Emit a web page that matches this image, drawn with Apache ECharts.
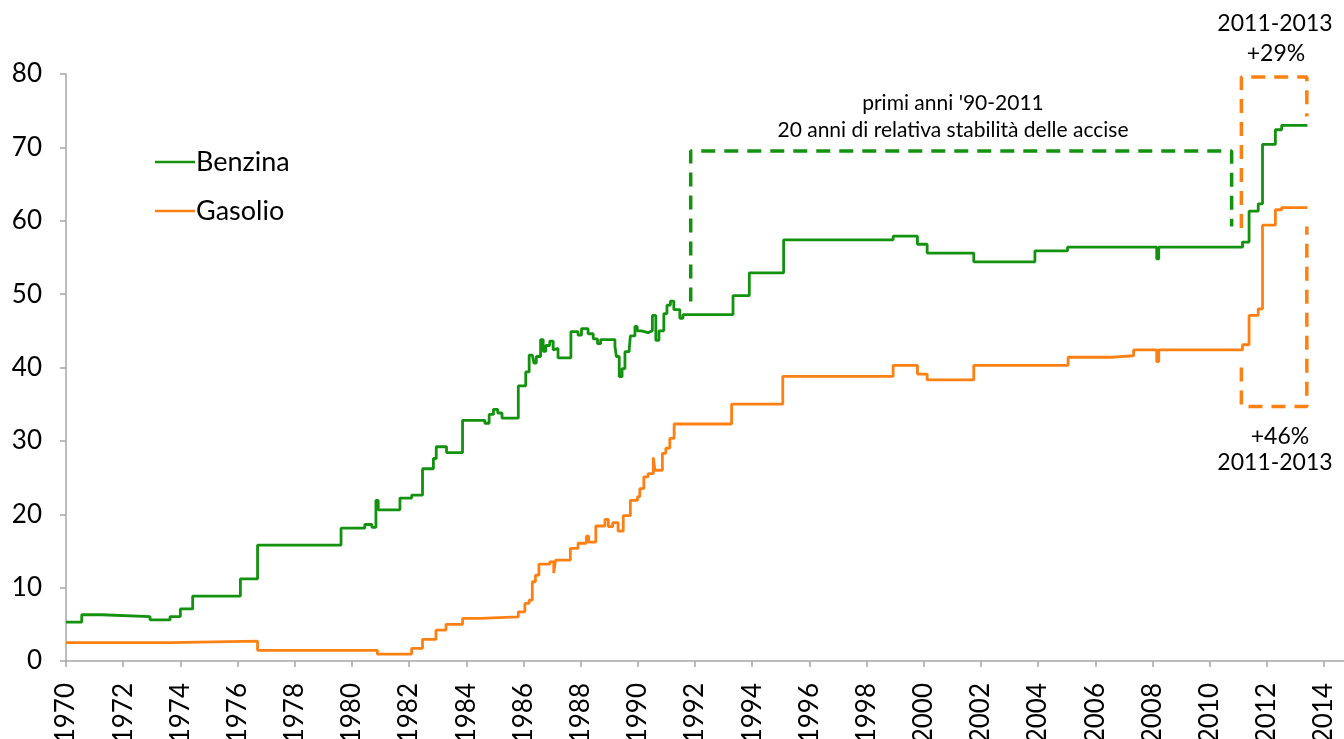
<!DOCTYPE html>
<html>
<head>
<meta charset="utf-8">
<script src="https://cdn.jsdelivr.net/npm/echarts@6/dist/echarts.min.js"></script>
<style>
  html, body { margin: 0; padding: 0; background: #fff; }
  #chart { width: 1344px; height: 739px; }
</style>
</head>
<body>
<div id="chart"></div>
<script>
// accise carburanti (centesimi/litro), punti di variazione [anno, valore]
var benzina = [
    [1970.0, 5.3], [1970.55, 6.3], [1971.25, 6.05], [1972.94, 5.6], [1973.64, 6.05],
    [1974.0, 7.1], [1974.43, 8.85], [1976.1, 11.2], [1976.7, 15.8], [1979.62, 18.1],
    [1980.45, 18.6], [1980.7, 18.2], [1980.84, 21.9], [1980.92, 20.6], [1981.68, 22.2],
    [1982.09, 22.6], [1982.47, 26.2], [1982.85, 27.6], [1982.95, 29.2], [1983.31, 28.4],
    [1983.87, 32.8], [1984.65, 32.4], [1984.8, 33.6], [1984.95, 34.3], [1985.1, 33.8],
    [1985.25, 33.1], [1985.82, 37.5], [1986.08, 39.4], [1986.2, 41.7], [1986.31, 41.9],
    [1986.37, 40.6], [1986.45, 41.5], [1986.6, 43.8], [1986.69, 42.2], [1986.78, 43.0],
    [1986.92, 43.6], [1987.04, 42.4], [1987.1, 42.6], [1987.21, 41.3], [1987.66, 44.9],
    [1987.91, 44.4], [1988.03, 45.3], [1988.26, 44.6], [1988.44, 43.9], [1988.59, 43.25],
    [1988.7, 43.8], [1989.2, 42.9], [1989.25, 41.5], [1989.35, 38.75], [1989.45, 39.85],
    [1989.55, 42.15], [1989.7, 42.5], [1989.74, 44.3], [1989.9, 45.6], [1989.98, 45.0],
    [1990.13, 44.75], [1990.36, 45.0], [1990.51, 47.1], [1990.63, 43.7], [1990.74, 45.0],
    [1990.91, 47.35], [1991.02, 48.5], [1991.14, 49.05], [1991.26, 47.9], [1991.47, 46.7],
    [1991.58, 47.2], [1993.33, 49.8], [1993.9, 52.9], [1995.1, 57.4], [1998.93, 57.9],
    [1999.78, 56.8], [2000.12, 55.6], [2001.75, 54.4], [2003.89, 55.9], [2005.03, 56.4],
    [2008.15, 54.8], [2008.22, 56.4], [2011.15, 57.1], [2011.38, 61.3], [2011.7, 62.3],
    [2011.85, 70.4], [2012.3, 72.4], [2012.52, 73.0], [2013.42, 73.0]
];

var gasolio = [
    [1970.0, 2.5], [1973.64, 2.7], [1976.7, 1.45], [1980.89, 0.95], [1982.09, 1.73],
    [1982.47, 2.95], [1982.94, 4.2], [1983.29, 5.0], [1983.87, 5.8], [1984.48, 6.0],
    [1985.82, 6.7], [1986.05, 7.85], [1986.2, 8.3], [1986.31, 10.8], [1986.42, 11.7],
    [1986.54, 13.2], [1986.92, 13.5], [1987.06, 12.0], [1987.12, 13.75], [1987.64, 15.35],
    [1987.91, 16.05], [1988.2, 17.0], [1988.28, 16.2], [1988.53, 18.4], [1988.85, 19.3],
    [1988.97, 18.3], [1989.12, 18.85], [1989.31, 17.7], [1989.49, 19.8], [1989.74, 21.9],
    [1989.99, 22.4], [1990.07, 23.5], [1990.21, 25.1], [1990.36, 25.55], [1990.54, 27.75],
    [1990.6, 26.0], [1990.86, 28.3], [1990.98, 29.0], [1991.12, 30.35], [1991.27, 32.3],
    [1993.28, 35.0], [1995.07, 38.8], [1998.93, 40.3], [1999.78, 39.1], [2000.12, 38.3],
    [2001.75, 40.3], [2005.05, 41.4], [2006.64, 41.6], [2007.34, 42.4], [2008.15, 40.8],
    [2008.22, 42.4], [2011.15, 43.1], [2011.38, 47.1], [2011.7, 48.0], [2011.85, 59.4],
    [2012.3, 61.5], [2012.52, 61.8], [2013.42, 61.8]
];

// riquadri tratteggiati (coordinate dati)
var boxStabilita = [[1991.85, 49.0], [1991.85, 69.5], [2010.77, 69.5], [2010.77, 59.2]];
var boxBenzina = [[2011.11, 59.0], [2011.11, 79.6], [2013.4, 79.6], [2013.4, 74.2]];
var boxGasolio = [[2011.11, 40.0], [2011.11, 34.7], [2013.4, 34.7], [2013.4, 59.2]];

var seriesNames = ['Benzina', 'Gasolio'];
var FONT = 'Lato';
var GREEN = '#12920f';
var ORANGE = '#ff8012';

var chart = echarts.init(document.getElementById('chart'));

var dashed = function(name, data, color) {
    return {
        name: name,
        type: 'line',
        data: data,
        symbol: 'none',
        silent: true,
        clip: false,
        lineStyle: { color: color, width: 3.5, type: [14, 9] },
        z: 1
    };
};

var note = function(text, x, y, size) {
    return {
        type: 'text',
        x: x,
        y: y,
        style: { text: text, align: 'center', verticalAlign: 'middle', font: size + 'px ' + FONT, fill: '#000' }
    };
};

var option = {
    animation: false,
    grid: { left: 66, right: 0, top: 74, bottom: 78, outerBoundsMode: 'none' },
    legend: {
        data: seriesNames,
        orient: 'vertical',
        left: 150,
        top: 142,
        itemGap: 19,
        itemWidth: 40,
        itemHeight: 2.5,
        icon: 'rect',
        textStyle: { fontFamily: FONT, fontSize: 27, lineHeight: 30, color: '#000', padding: [0, 0, 0, -4] }
    },
    xAxis: {
        type: 'value',
        min: 1970,
        max: 2014.7,   // l'asse prosegue oltre il 2014 fino al bordo
        interval: 2,
        axisLine: { lineStyle: { color: '#a6a6a6', width: 1.5 } },
        axisTick: { length: 6, lineStyle: { color: '#a6a6a6', width: 1.5 } },
        axisLabel: {
            rotate: 90,
            margin: 22,
            fontFamily: FONT,
            fontSize: 26,
            color: '#000',
            showMaxLabel: false,
            formatter: function(v) { return v % 2 === 0 ? String(v) : ''; }
        },
        splitLine: { show: false }
    },
    yAxis: {
        type: 'value',
        min: 0,
        max: 80,
        interval: 10,
        axisLine: { show: true, lineStyle: { color: '#a6a6a6', width: 1.5 } },
        axisTick: { show: true, length: 6, lineStyle: { color: '#a6a6a6', width: 1.5 } },
        axisLabel: { margin: 24, fontFamily: FONT, fontSize: 26, color: '#000' },
        splitLine: { show: false }
    },
    graphic: [
        note("primi anni '90-2011", 953, 103, 21),
        note('20 anni di relativa stabilità delle accise', 953, 130, 21),
        note('2011-2013', 1275, 24, 23),
        note('+29%', 1276, 54, 23),
        note('+46%', 1280, 437, 23),
        note('2011-2013', 1275, 463, 23)
    ],
    series: [
        {
            name: 'Benzina',
            type: 'line',
            step: 'end',
            data: benzina,
            symbol: 'none',
            color: GREEN,
            lineStyle: { color: GREEN, width: 2.8 },
            z: 3
        },
        {
            name: 'Gasolio',
            type: 'line',
            step: 'end',
            data: gasolio,
            symbol: 'none',
            color: ORANGE,
            lineStyle: { color: ORANGE, width: 2.8 },
            z: 3
        },
        dashed('boxStabilita', boxStabilita, GREEN),
        dashed('boxBenzina', boxBenzina, ORANGE),
        dashed('boxGasolio', boxGasolio, ORANGE)
    ]
};

chart.setOption(option);
</script>
</body>
</html>
